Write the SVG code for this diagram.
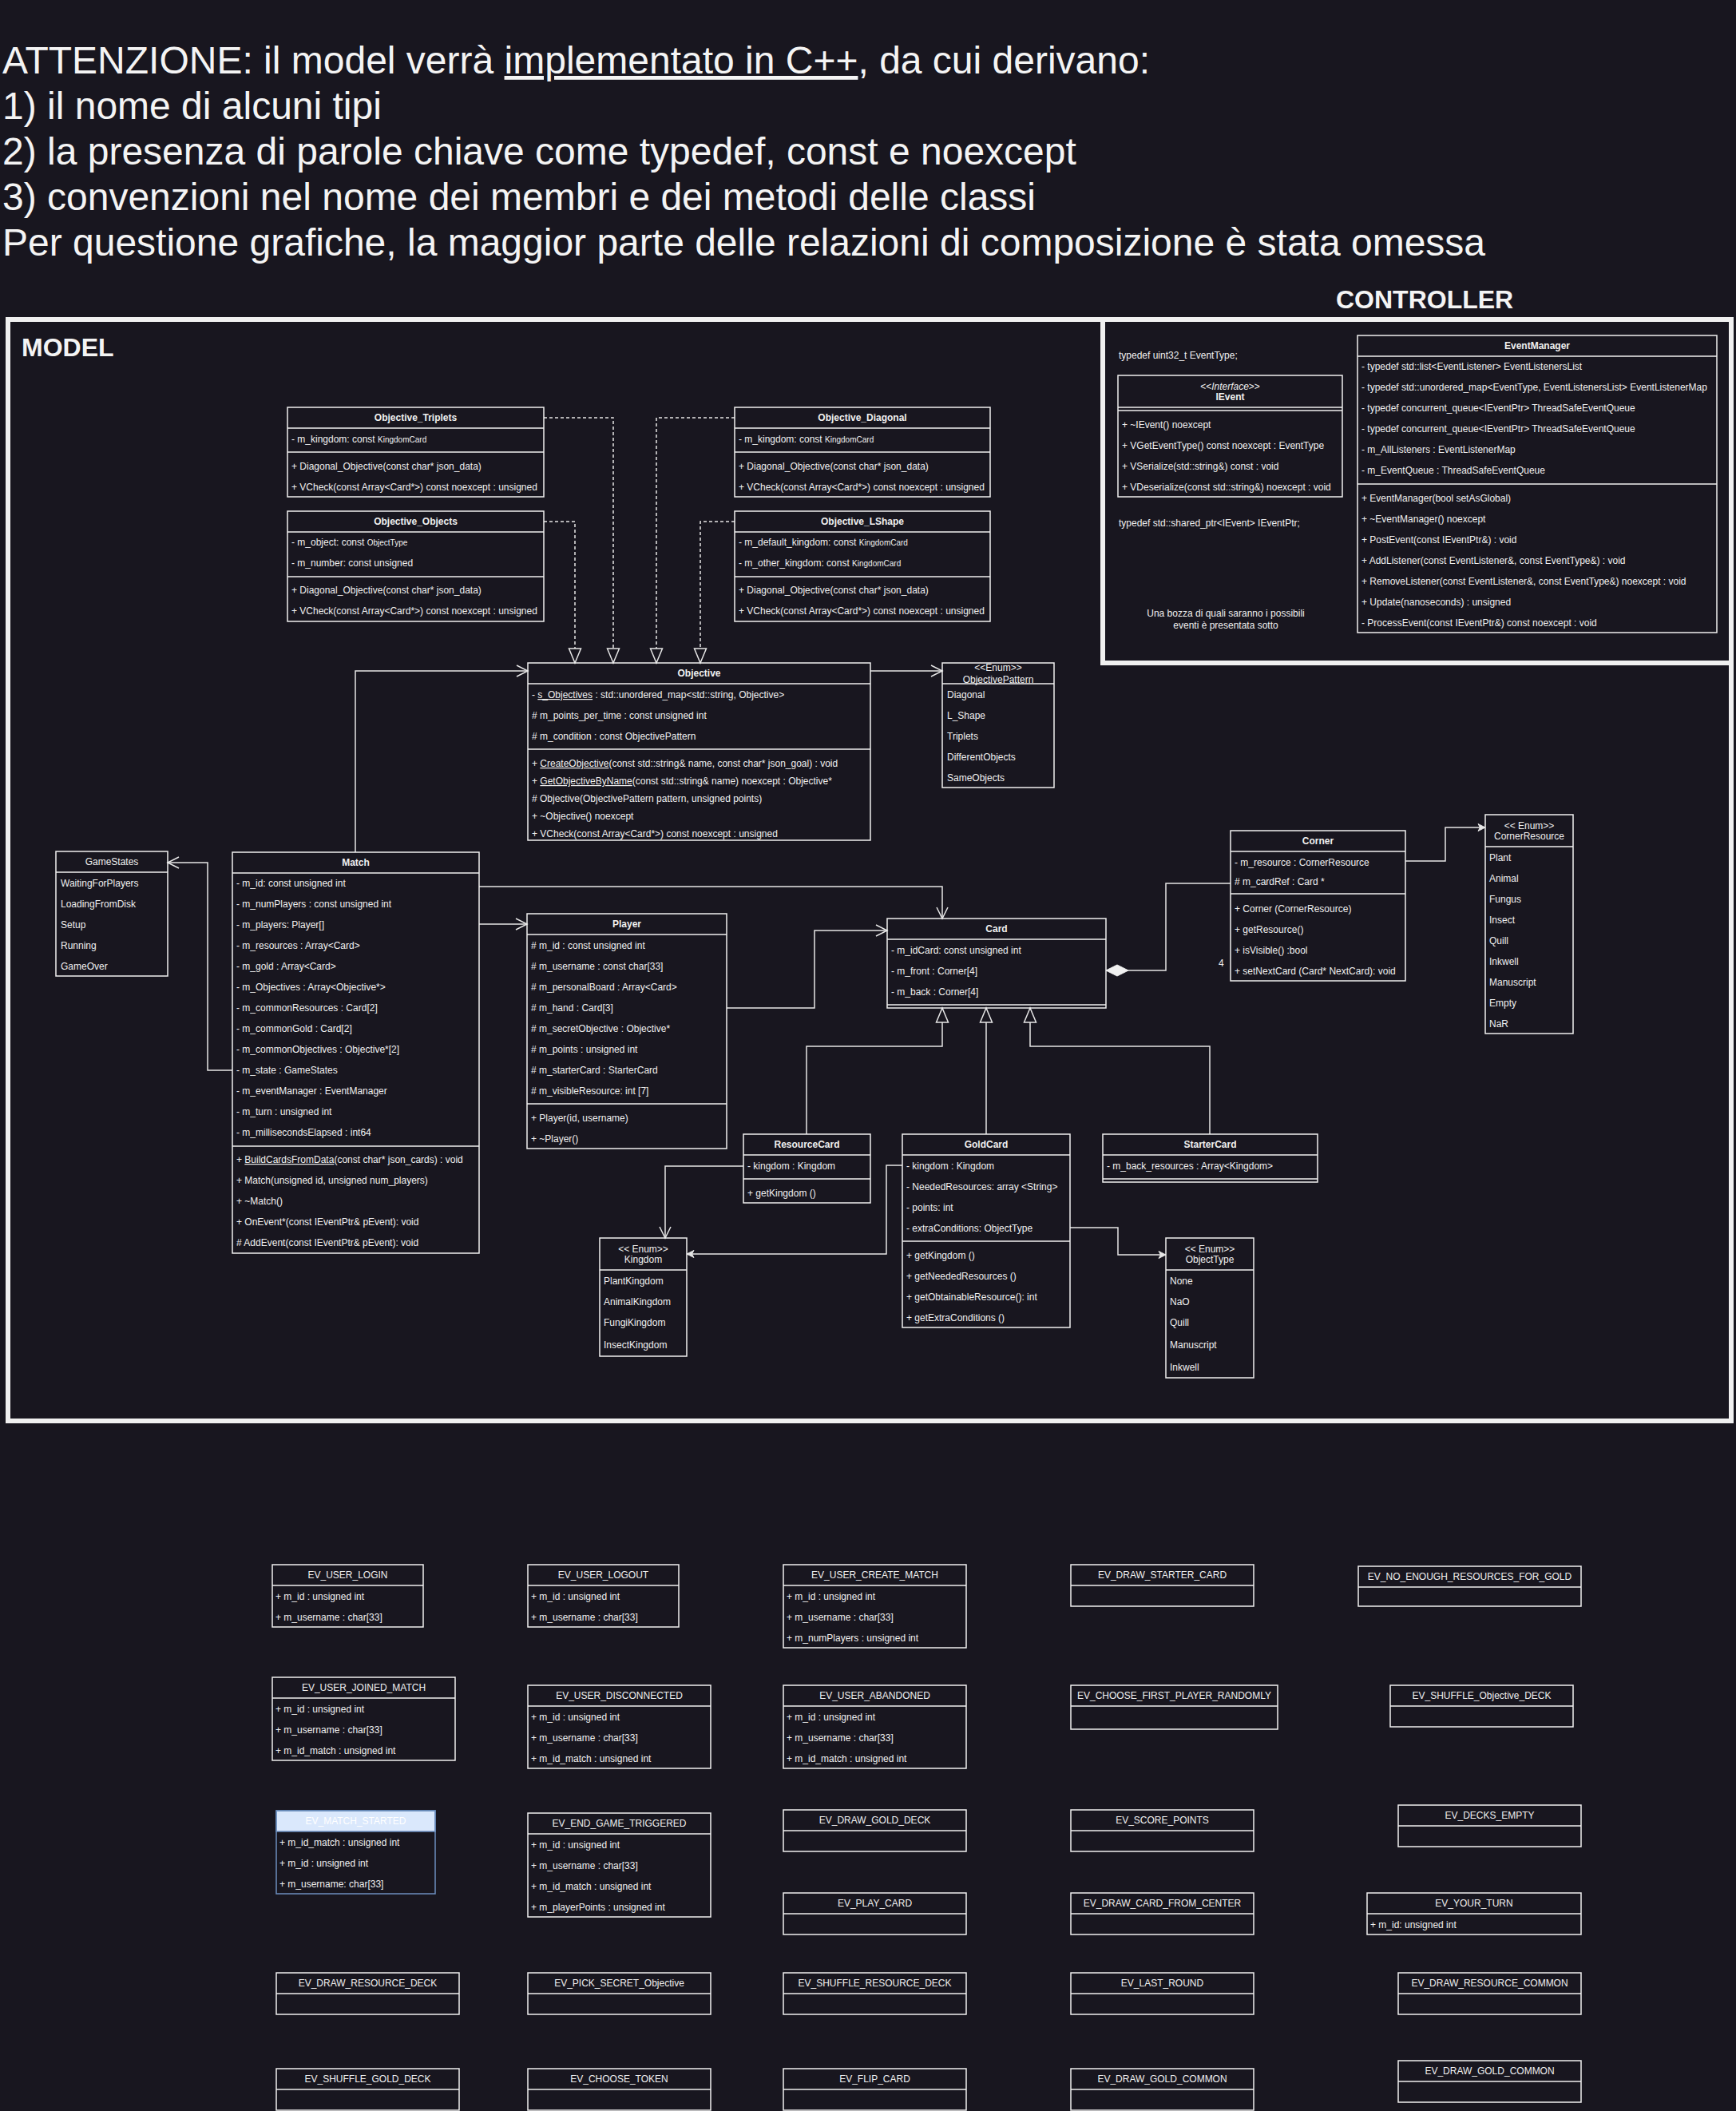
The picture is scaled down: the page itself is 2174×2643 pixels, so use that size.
<svg xmlns="http://www.w3.org/2000/svg" width="2174" height="2643" viewBox="0 0 2174 2643">
<defs>
<style>
text{font-family:'Liberation Sans',Arial,Helvetica,sans-serif;font-size:12px;fill:#f0f0f0}
.b{fill:none;stroke:#f0f0f0;stroke-width:1.5}
.l{fill:none;stroke:#f0f0f0;stroke-width:1.5}
.h{font-weight:bold;text-anchor:middle}
.m{text-anchor:middle}
.s{font-size:10px}
.u{text-decoration:underline}
.i{font-style:italic}
.title{font-size:48px;fill:#f4f4f4}
.big{font-size:32px;font-weight:bold;fill:#f4f4f4}
.frame{fill:none;stroke:#f0f0f0;stroke-width:6}
.c{fill:none;stroke:#e6e6e6;stroke-width:1.5}
.d{stroke-dasharray:4 3}
.op{marker-end:url(#open)}
.fa{marker-end:url(#filled)}
.tri{marker-end:url(#tri)}
.dia{marker-end:url(#diamond)}
</style>
<marker id="open" markerUnits="userSpaceOnUse" markerWidth="30" markerHeight="30" refX="0" refY="0" orient="auto" overflow="visible"><path d="M-14,-7L0,0L-14,7" fill="none" stroke="#e6e6e6" stroke-width="1.5"/></marker>
<marker id="filled" markerUnits="userSpaceOnUse" markerWidth="20" markerHeight="20" refX="0" refY="0" orient="auto" overflow="visible"><path d="M-9,-4.5L0,0L-9,4.5L-6.5,0Z" fill="#e6e6e6" stroke="#e6e6e6" stroke-width="1"/></marker>
<marker id="tri" markerUnits="userSpaceOnUse" markerWidth="30" markerHeight="30" refX="0" refY="0" orient="auto" overflow="visible"><path d="M0,0L-18,-7.5L-18,7.5Z" fill="#18161f" stroke="#e6e6e6" stroke-width="1.5"/></marker>
<marker id="diamond" markerUnits="userSpaceOnUse" markerWidth="40" markerHeight="20" refX="0" refY="0" orient="auto" overflow="visible"><path d="M0,0L-14,-7L-28,0L-14,7Z" fill="#f0f0f0" stroke="#f0f0f0" stroke-width="1"/></marker>
</defs>
<rect width="2174" height="2643" fill="#18161f"/>

<g id="header-notes">
<text class="title" x="3" y="92">ATTENZIONE: il model verrà <tspan class="u">implementato in C++</tspan>, da cui derivano:</text>
<text class="title" x="3" y="149">1) il nome di alcuni tipi</text>
<text class="title" x="3" y="206">2) la presenza di parole chiave come typedef, const e noexcept</text>
<text class="title" x="3" y="263">3) convenzioni nel nome dei membri e dei metodi delle classi</text>
<text class="title" x="3" y="320">Per questione grafiche, la maggior parte delle relazioni di composizione è stata omessa</text>
</g>

<g id="frames">
<rect class="frame" x="10" y="400" width="2158" height="1379"/>
<rect class="frame" x="1381" y="400" width="787" height="430"/>
<text class="big" x="27" y="446">MODEL</text>
<text class="big" x="1673" y="386">CONTROLLER</text>
</g>

<g id="connectors">
<path class="c d tri" d="M681,523H768V830"/>
<path class="c d tri" d="M681,653H720V830"/>
<path class="c d tri" d="M920,523H822V830"/>
<path class="c d tri" d="M920,653H877V830"/>
<path class="c op" d="M445,1067V840H661"/>
<path class="c op" d="M1090,840H1180"/>
<path class="c op" d="M600,1110H1180V1150"/>
<path class="c op" d="M600,1157H660"/>
<path class="c op" d="M910,1262H1020V1165H1111"/>
<path class="c op" d="M291,1340H260V1080H210"/>
<path class="c op" d="M931,1460H833V1550"/>
<path class="c fa" d="M1760,1078H1810V1036H1860"/>
<path class="c fa" d="M1130,1459H1110V1570H860"/>
<path class="c fa" d="M1340,1537H1400V1571H1460"/>
<path class="c tri" d="M1010,1420V1310H1180V1262"/>
<path class="c tri" d="M1235,1420V1262"/>
<path class="c tri" d="M1515,1420V1310H1290V1262"/>
<path class="c dia" d="M1541,1106H1460V1215H1385"/>
<text x="1526" y="1210">4</text>
</g>

<g id="objective-triplets" transform="translate(360,510)">
<rect class="b" width="321" height="112"/>
<path class="l" d="M0,26H321M0,56H321"/>
<text class="h" x="160.5" y="17">Objective_Triplets</text>
<text x="5" y="44">- m_kingdom: const <tspan class="s">KingdomCard</tspan></text>
<text x="5" y="78">+ Diagonal_Objective(const char* json_data)</text>
<text x="5" y="104">+ VCheck(const Array&lt;Card*&gt;) const noexcept : unsigned</text>
</g>

<g id="objective-objects" transform="translate(360,640)">
<rect class="b" width="321" height="138"/>
<path class="l" d="M0,26H321M0,82H321"/>
<text class="h" x="160.5" y="17">Objective_Objects</text>
<text x="5" y="43">- m_object: const <tspan class="s">ObjectType</tspan></text>
<text x="5" y="69">- m_number: const unsigned</text>
<text x="5" y="103">+ Diagonal_Objective(const char* json_data)</text>
<text x="5" y="129">+ VCheck(const Array&lt;Card*&gt;) const noexcept : unsigned</text>
</g>

<g id="objective-diagonal" transform="translate(920,510)">
<rect class="b" width="320" height="112"/>
<path class="l" d="M0,26H320M0,56H320"/>
<text class="h" x="160" y="17">Objective_Diagonal</text>
<text x="5" y="44">- m_kingdom: const <tspan class="s">KingdomCard</tspan></text>
<text x="5" y="78">+ Diagonal_Objective(const char* json_data)</text>
<text x="5" y="104">+ VCheck(const Array&lt;Card*&gt;) const noexcept : unsigned</text>
</g>

<g id="objective-lshape" transform="translate(920,640)">
<rect class="b" width="320" height="138"/>
<path class="l" d="M0,26H320M0,82H320"/>
<text class="h" x="160" y="17">Objective_LShape</text>
<text x="5" y="43">- m_default_kingdom: const <tspan class="s">KingdomCard</tspan></text>
<text x="5" y="69">- m_other_kingdom: const <tspan class="s">KingdomCard</tspan></text>
<text x="5" y="103">+ Diagonal_Objective(const char* json_data)</text>
<text x="5" y="129">+ VCheck(const Array&lt;Card*&gt;) const noexcept : unsigned</text>
</g>

<g id="objective" transform="translate(661,830)">
<rect class="b" width="429" height="222"/>
<path class="l" d="M0,26H429M0,108H429"/>
<text class="h" x="214.5" y="17">Objective</text>
<text x="5" y="44">- <tspan class="u">s_Objectives</tspan> : std::unordered_map&lt;std::string, Objective&gt;</text>
<text x="5" y="70">#  m_points_per_time : const unsigned int</text>
<text x="5" y="96"># m_condition : const ObjectivePattern</text>
<text x="5" y="130">+ <tspan class="u">CreateObjective</tspan>(const std::string&amp; name, const char* json_goal) : void</text>
<text x="5" y="152">+ <tspan class="u">GetObjectiveByName</tspan>(const std::string&amp; name) noexcept : Objective*</text>
<text x="5" y="174"># Objective(ObjectivePattern pattern, unsigned points)</text>
<text x="5" y="196">+ ~Objective() noexcept</text>
<text x="5" y="218">+ VCheck(const Array&lt;Card*&gt;) const noexcept : unsigned</text>
</g>

<g id="objective-pattern" transform="translate(1180,830)">
<rect class="b" width="140" height="156"/>
<path class="l" d="M0,26H140"/>
<text class="m" x="70" y="10">&lt;&lt;Enum&gt;&gt;</text>
<text class="m" x="70" y="25">ObjectivePattern</text>
<text x="6" y="44">Diagonal</text>
<text x="6" y="70">L_Shape</text>
<text x="6" y="96">Triplets</text>
<text x="6" y="122">DifferentObjects</text>
<text x="6" y="148">SameObjects</text>
</g>

<g id="game-states" transform="translate(70,1066)">
<rect class="b" width="140" height="156"/>
<path class="l" d="M0,26H140"/>
<text class="m" x="70" y="17">GameStates</text>
<text x="6" y="44">WaitingForPlayers</text>
<text x="6" y="70">LoadingFromDisk</text>
<text x="6" y="96">Setup</text>
<text x="6" y="122">Running</text>
<text x="6" y="148">GameOver</text>
</g>

<g id="match" transform="translate(291,1067)">
<rect class="b" width="309" height="502"/>
<path class="l" d="M0,26H309M0,368H309"/>
<text class="h" x="154.5" y="17">Match</text>
<text x="5" y="43">- m_id: const unsigned int</text>
<text x="5" y="69">- m_numPlayers : const unsigned int</text>
<text x="5" y="95">- m_players: Player[]</text>
<text x="5" y="121">- m_resources : Array&lt;Card&gt;</text>
<text x="5" y="147">- m_gold : Array&lt;Card&gt;</text>
<text x="5" y="173">- m_Objectives : Array&lt;Objective*&gt;</text>
<text x="5" y="199">- m_commonResources : Card[2]</text>
<text x="5" y="225">- m_commonGold : Card[2]</text>
<text x="5" y="251">- m_commonObjectives : Objective*[2]</text>
<text x="5" y="277">- m_state : GameStates</text>
<text x="5" y="303">- m_eventManager : EventManager</text>
<text x="5" y="329">- m_turn : unsigned int</text>
<text x="5" y="355">- m_millisecondsElapsed : int64</text>
<text x="5" y="389">+ <tspan class="u">BuildCardsFromData</tspan>(const char* json_cards) : void</text>
<text x="5" y="415">+ Match(unsigned id, unsigned num_players)</text>
<text x="5" y="441">+ ~Match()</text>
<text x="5" y="467">+ OnEvent*(const IEventPtr&amp; pEvent): void</text>
<text x="5" y="493"># AddEvent(const IEventPtr&amp; pEvent): void</text>
</g>

<g id="player" transform="translate(660,1144)">
<rect class="b" width="250" height="294"/>
<path class="l" d="M0,26H250M0,238H250"/>
<text class="h" x="125" y="17">Player</text>
<text x="5" y="44"># m_id : const unsigned int</text>
<text x="5" y="70"># m_username : const char[33]</text>
<text x="5" y="96"># m_personalBoard : Array&lt;Card&gt;</text>
<text x="5" y="122"># m_hand : Card[3]</text>
<text x="5" y="148"># m_secretObjective : Objective*</text>
<text x="5" y="174"># m_points : unsigned int</text>
<text x="5" y="200"># m_starterCard : StarterCard</text>
<text x="5" y="226"># m_visibleResource: int [7]</text>
<text x="5" y="260">+ Player(id, username)</text>
<text x="5" y="286">+ ~Player()</text>
</g>

<g id="card" transform="translate(1111,1150)">
<rect class="b" width="274" height="112"/>
<path class="l" d="M0,26H274M0,108H274"/>
<text class="h" x="137" y="17">Card</text>
<text x="5" y="44">- m_idCard: const unsigned int</text>
<text x="5" y="70">- m_front : Corner[4]</text>
<text x="5" y="96">- m_back : Corner[4]</text>
</g>

<g id="corner" transform="translate(1541,1040)">
<rect class="b" width="219" height="188"/>
<path class="l" d="M0,26H219M0,79H219"/>
<text class="h" x="109.5" y="17">Corner</text>
<text x="5" y="44">- m_resource : CornerResource</text>
<text x="5" y="68"># m_cardRef : Card *</text>
<text x="5" y="102">+ Corner (CornerResource)</text>
<text x="5" y="128">+ getResource()</text>
<text x="5" y="154">+ isVisible() :bool</text>
<text x="5" y="180">+ setNextCard (Card* NextCard): void</text>
</g>

<g id="corner-resource" transform="translate(1860,1020)">
<rect class="b" width="110" height="274"/>
<path class="l" d="M0,40H110"/>
<text class="m" x="55" y="18">&lt;&lt; Enum&gt;&gt;</text>
<text class="m" x="55" y="31">CornerResource</text>
<text x="5" y="58">Plant</text>
<text x="5" y="84">Animal</text>
<text x="5" y="110">Fungus</text>
<text x="5" y="136">Insect</text>
<text x="5" y="162">Quill</text>
<text x="5" y="188">Inkwell</text>
<text x="5" y="214">Manuscript</text>
<text x="5" y="240">Empty</text>
<text x="5" y="266">NaR</text>
</g>

<g id="resource-card" transform="translate(931,1420)">
<rect class="b" width="159" height="86"/>
<path class="l" d="M0,26H159M0,56H159"/>
<text class="h" x="79.5" y="17">ResourceCard</text>
<text x="5" y="44">- kingdom : Kingdom</text>
<text x="5" y="78">+ getKingdom ()</text>
</g>

<g id="gold-card" transform="translate(1130,1420)">
<rect class="b" width="210" height="242"/>
<path class="l" d="M0,26H210M0,134H210"/>
<text class="h" x="105" y="17">GoldCard</text>
<text x="5" y="44">- kingdom : Kingdom</text>
<text x="5" y="70">- NeededResources: array &lt;String&gt;</text>
<text x="5" y="96">- points: int</text>
<text x="5" y="122">- extraConditions: ObjectType</text>
<text x="5" y="156">+ getKingdom ()</text>
<text x="5" y="182">+ getNeededResources ()</text>
<text x="5" y="208">+ getObtainableResource(): int</text>
<text x="5" y="234">+ getExtraConditions ()</text>
</g>

<g id="starter-card" transform="translate(1381,1420)">
<rect class="b" width="269" height="60"/>
<path class="l" d="M0,26H269M0,56H269"/>
<text class="h" x="134.5" y="17">StarterCard</text>
<text x="5" y="44">- m_back_resources : Array&lt;Kingdom&gt;</text>
</g>

<g id="kingdom" transform="translate(751,1550)">
<rect class="b" width="109" height="148"/>
<path class="l" d="M0,40H109"/>
<text class="m" x="54.5" y="18">&lt;&lt; Enum&gt;&gt;</text>
<text class="m" x="54.5" y="31">Kingdom</text>
<text x="5" y="58">PlantKingdom</text>
<text x="5" y="84">AnimalKingdom</text>
<text x="5" y="110">FungiKingdom</text>
<text x="5" y="138">InsectKingdom</text>
</g>

<g id="object-type" transform="translate(1460,1550)">
<rect class="b" width="110" height="175"/>
<path class="l" d="M0,40H110"/>
<text class="m" x="55" y="18">&lt;&lt; Enum&gt;&gt;</text>
<text class="m" x="55" y="31">ObjectType</text>
<text x="5" y="58">None</text>
<text x="5" y="84">NaO</text>
<text x="5" y="110">Quill</text>
<text x="5" y="138">Manuscript</text>
<text x="5" y="166">Inkwell</text>
</g>

<g id="controller-notes">
<text x="1401" y="449">typedef uint32_t EventType;</text>
<text x="1401" y="659">typedef std::shared_ptr&lt;IEvent&gt; IEventPtr;</text>
<text class="m" x="1535" y="772">Una bozza di quali saranno i possibili</text>
<text class="m" x="1535" y="787">eventi è presentata sotto</text>
</g>

<g id="ievent" transform="translate(1400,470)">
<rect class="b" width="281" height="152"/>
<path class="l" d="M0,40H281M0,44H281"/>
<text class="m" x="140.5" y="18">&lt;&lt;<tspan class="i">Interface</tspan>&gt;&gt;</text>
<text class="h" x="140.5" y="31">IEvent</text>
<text x="5" y="66">+ ~IEvent() noexcept</text>
<text x="5" y="92">+ VGetEventType() const noexcept : EventType</text>
<text x="5" y="118">+ VSerialize(std::string&amp;) const : void</text>
<text x="5" y="144">+ VDeserialize(const std::string&amp;) noexcept : void</text>
</g>

<g id="event-manager" transform="translate(1700,420)">
<rect class="b" width="450" height="372"/>
<path class="l" d="M0,26H450M0,186H450"/>
<text class="h" x="225" y="17">EventManager</text>
<text x="5" y="43">- typedef std::list&lt;EventListener&gt; EventListenersList</text>
<text x="5" y="69">- typedef std::unordered_map&lt;EventType, EventListenersList&gt; EventListenerMap</text>
<text x="5" y="95">- typedef concurrent_queue&lt;IEventPtr&gt; ThreadSafeEventQueue</text>
<text x="5" y="121">- typedef concurrent_queue&lt;IEventPtr&gt; ThreadSafeEventQueue</text>
<text x="5" y="147">- m_AllListeners : EventListenerMap</text>
<text x="5" y="173">- m_EventQueue : ThreadSafeEventQueue</text>
<text x="5" y="208">+ EventManager(bool setAsGlobal)</text>
<text x="5" y="234">+ ~EventManager() noexcept</text>
<text x="5" y="260">+ PostEvent(const IEventPtr&amp;) : void</text>
<text x="5" y="286">+ AddListener(const EventListener&amp;, const EventType&amp;) : void</text>
<text x="5" y="312">+ RemoveListener(const EventListener&amp;, const EventType&amp;) noexcept : void</text>
<text x="5" y="338">+ Update(nanoseconds) : unsigned</text>
<text x="5" y="364">-  ProcessEvent(const IEventPtr&amp;) const noexcept : void</text>
</g>

<g id="ev-user-login" transform="translate(341,1959)">
<rect class="b" width="189" height="78"/><path class="l" d="M0,26H189"/>
<text class="m" x="94.5" y="17">EV_USER_LOGIN</text>
<text x="4" y="44">+ m_id : unsigned int</text>
<text x="4" y="70">+ m_username : char[33]</text>
</g>
<g id="ev-user-logout" transform="translate(661,1959)">
<rect class="b" width="189" height="78"/><path class="l" d="M0,26H189"/>
<text class="m" x="94.5" y="17">EV_USER_LOGOUT</text>
<text x="4" y="44">+ m_id : unsigned int</text>
<text x="4" y="70">+ m_username : char[33]</text>
</g>
<g id="ev-user-create-match" transform="translate(981,1959)">
<rect class="b" width="229" height="104"/><path class="l" d="M0,26H229"/>
<text class="m" x="114.5" y="17">EV_USER_CREATE_MATCH</text>
<text x="4" y="44">+ m_id : unsigned int</text>
<text x="4" y="70">+ m_username : char[33]</text>
<text x="4" y="96">+ m_numPlayers : unsigned int</text>
</g>
<g id="ev-draw-starter-card" transform="translate(1341,1959)">
<rect class="b" width="229" height="52"/><path class="l" d="M0,26H229"/>
<text class="m" x="114.5" y="17">EV_DRAW_STARTER_CARD</text>
</g>
<g id="ev-no-enough-resources-for-gold" transform="translate(1701,1961)">
<rect class="b" width="279" height="50"/><path class="l" d="M0,26H279"/>
<text class="m" x="139.5" y="17">EV_NO_ENOUGH_RESOURCES_FOR_GOLD</text>
</g>

<g id="ev-user-joined-match" transform="translate(341,2100)">
<rect class="b" width="229" height="104"/><path class="l" d="M0,26H229"/>
<text class="m" x="114.5" y="17">EV_USER_JOINED_MATCH</text>
<text x="4" y="44">+ m_id : unsigned int</text>
<text x="4" y="70">+ m_username : char[33]</text>
<text x="4" y="96">+ m_id_match : unsigned int</text>
</g>
<g id="ev-user-disconnected" transform="translate(661,2110)">
<rect class="b" width="229" height="104"/><path class="l" d="M0,26H229"/>
<text class="m" x="114.5" y="17">EV_USER_DISCONNECTED</text>
<text x="4" y="44">+ m_id : unsigned int</text>
<text x="4" y="70">+ m_username : char[33]</text>
<text x="4" y="96">+ m_id_match : unsigned int</text>
</g>
<g id="ev-user-abandoned" transform="translate(981,2110)">
<rect class="b" width="229" height="104"/><path class="l" d="M0,26H229"/>
<text class="m" x="114.5" y="17">EV_USER_ABANDONED</text>
<text x="4" y="44">+ m_id : unsigned int</text>
<text x="4" y="70">+ m_username : char[33]</text>
<text x="4" y="96">+ m_id_match : unsigned int</text>
</g>
<g id="ev-choose-first-player-randomly" transform="translate(1341,2110)">
<rect class="b" width="259" height="55"/><path class="l" d="M0,26H259"/>
<text class="m" x="129.5" y="17">EV_CHOOSE_FIRST_PLAYER_RANDOMLY</text>
</g>
<g id="ev-shuffle-objective-deck" transform="translate(1741,2110)">
<rect class="b" width="229" height="52"/><path class="l" d="M0,26H229"/>
<text class="m" x="114.5" y="17">EV_SHUFFLE_Objective_DECK</text>
</g>

<g id="ev-match-started" transform="translate(346,2267)">
<rect width="199" height="26" fill="#dae8fc" stroke="#6c8ebf" stroke-width="1.5"/>
<rect width="199" height="104" fill="none" stroke="#6c8ebf" stroke-width="1.5"/>
<text class="m" x="99.5" y="17" style="fill:#ffffff">EV_MATCH_STARTED</text>
<text x="4" y="44">+ m_id_match : unsigned int</text>
<text x="4" y="70">+ m_id : unsigned int</text>
<text x="4" y="96">+ m_username: char[33]</text>
</g>
<g id="ev-end-game-triggered" transform="translate(661,2270)">
<rect class="b" width="229" height="130"/><path class="l" d="M0,26H229"/>
<text class="m" x="114.5" y="17">EV_END_GAME_TRIGGERED</text>
<text x="4" y="44">+ m_id : unsigned int</text>
<text x="4" y="70">+ m_username : char[33]</text>
<text x="4" y="96">+ m_id_match : unsigned int</text>
<text x="4" y="122">+ m_playerPoints : unsigned int</text>
</g>
<g id="ev-draw-gold-deck" transform="translate(981,2266)">
<rect class="b" width="229" height="52"/><path class="l" d="M0,26H229"/>
<text class="m" x="114.5" y="17">EV_DRAW_GOLD_DECK</text>
</g>
<g id="ev-score-points" transform="translate(1341,2266)">
<rect class="b" width="229" height="52"/><path class="l" d="M0,26H229"/>
<text class="m" x="114.5" y="17">EV_SCORE_POINTS</text>
</g>
<g id="ev-decks-empty" transform="translate(1751,2260)">
<rect class="b" width="229" height="52"/><path class="l" d="M0,26H229"/>
<text class="m" x="114.5" y="17">EV_DECKS_EMPTY</text>
</g>

<g id="ev-play-card" transform="translate(981,2370)">
<rect class="b" width="229" height="52"/><path class="l" d="M0,26H229"/>
<text class="m" x="114.5" y="17">EV_PLAY_CARD</text>
</g>
<g id="ev-draw-card-from-center" transform="translate(1341,2370)">
<rect class="b" width="229" height="52"/><path class="l" d="M0,26H229"/>
<text class="m" x="114.5" y="17">EV_DRAW_CARD_FROM_CENTER</text>
</g>
<g id="ev-your-turn" transform="translate(1712,2370)">
<rect class="b" width="268" height="52"/><path class="l" d="M0,26H268"/>
<text class="m" x="134" y="17">EV_YOUR_TURN</text>
<text x="4" y="44">+ m_id: unsigned int</text>
</g>

<g id="ev-draw-resource-deck" transform="translate(346,2470)">
<rect class="b" width="229" height="52"/><path class="l" d="M0,26H229"/>
<text class="m" x="114.5" y="17">EV_DRAW_RESOURCE_DECK</text>
</g>
<g id="ev-pick-secret-objective" transform="translate(661,2470)">
<rect class="b" width="229" height="52"/><path class="l" d="M0,26H229"/>
<text class="m" x="114.5" y="17">EV_PICK_SECRET_Objective</text>
</g>
<g id="ev-shuffle-resource-deck" transform="translate(981,2470)">
<rect class="b" width="229" height="52"/><path class="l" d="M0,26H229"/>
<text class="m" x="114.5" y="17">EV_SHUFFLE_RESOURCE_DECK</text>
</g>
<g id="ev-last-round" transform="translate(1341,2470)">
<rect class="b" width="229" height="52"/><path class="l" d="M0,26H229"/>
<text class="m" x="114.5" y="17">EV_LAST_ROUND</text>
</g>
<g id="ev-draw-resource-common" transform="translate(1751,2470)">
<rect class="b" width="229" height="52"/><path class="l" d="M0,26H229"/>
<text class="m" x="114.5" y="17">EV_DRAW_RESOURCE_COMMON</text>
</g>

<g id="ev-shuffle-gold-deck" transform="translate(346,2590)">
<rect class="b" width="229" height="52"/><path class="l" d="M0,26H229"/>
<text class="m" x="114.5" y="17">EV_SHUFFLE_GOLD_DECK</text>
</g>
<g id="ev-choose-token" transform="translate(661,2590)">
<rect class="b" width="229" height="52"/><path class="l" d="M0,26H229"/>
<text class="m" x="114.5" y="17">EV_CHOOSE_TOKEN</text>
</g>
<g id="ev-flip-card" transform="translate(981,2590)">
<rect class="b" width="229" height="52"/><path class="l" d="M0,26H229"/>
<text class="m" x="114.5" y="17">EV_FLIP_CARD</text>
</g>
<g id="ev-draw-gold-common" transform="translate(1341,2590)">
<rect class="b" width="229" height="52"/><path class="l" d="M0,26H229"/>
<text class="m" x="114.5" y="17">EV_DRAW_GOLD_COMMON</text>
</g>
<g id="ev-draw-gold-common-2" transform="translate(1751,2580)">
<rect class="b" width="229" height="52"/><path class="l" d="M0,26H229"/>
<text class="m" x="114.5" y="17">EV_DRAW_GOLD_COMMON</text>
</g>
</svg>
